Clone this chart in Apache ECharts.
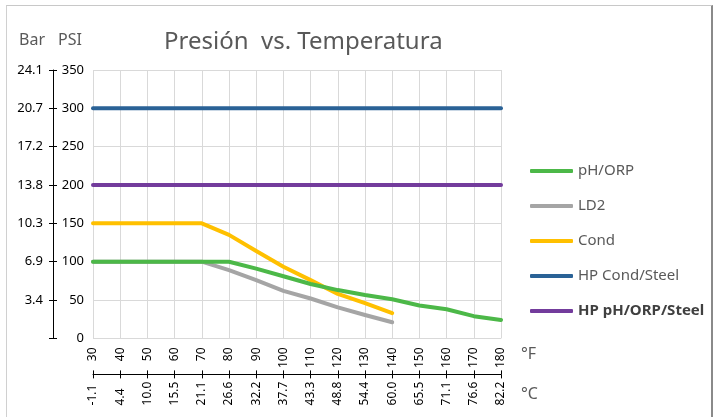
<!DOCTYPE html>
<html>
<head>
<meta charset="utf-8">
<script src="https://cdn.jsdelivr.net/npm/echarts@6/dist/echarts.min.js"></script>
<style>
  html, body { margin: 0; padding: 0; background: #fff; }
  #frame { position: absolute; left: 6px; top: 5px; width: 704px; height: 430px;
           border-left: 1px solid #d0d0d0; border-top: 1px solid #c8c8c8; border-right: 2px solid #8a8a8a; }
  #chart { position: absolute; left: 0; top: 0; width: 718px; height: 417px; }
</style>
</head>
<body>
<div id="frame"></div>
<div id="chart"></div>
<script>
const fahrenheit = ['30','40','50','60','70','80','90','100','110','120','130','140','150','160','170','180'];
const celsius = ['-1.1','4.4','10.0','15.5','21.1','26.6','32.2','37.7','43.3','48.8','54.4','60.0','65.5','71.1','76.6','82.2'];
const barLabels = ['', '3.4', '6.9', '10.3', '13.8', '17.2', '20.7', '24.1'];

const phOrp = [100, 100, 100, 100, 100, 100, 91, 81, 71, 63, 56.5, 51, 43, 38, 29, 24];
const ld2 = [100, 100, 100, 100, 100, 89, 76, 62, 52, 40.5, 30.5, 21, null, null, null, null];
const cond = [150, 150, 150, 150, 150, 135, 114, 93.5, 76, 58, 46, 33, null, null, null, null];
const hpCondSteel = [300, 300, 300, 300, 300, 300, 300, 300, 300, 300, 300, 300, 300, 300, 300, 300];
const hpPhOrpSteel = [200, 200, 200, 200, 200, 200, 200, 200, 200, 200, 200, 200, 200, 200, 200, 200];

const FONT = 'Noto Sans';
const chart = echarts.init(document.getElementById('chart'), null, { renderer: 'canvas' });

function lineSeries(name, data, color) {
  return {
    name, type: 'line', data, symbol: 'none', xAxisIndex: 0, yAxisIndex: 0,
    lineStyle: { width: 4, color, cap: 'round', join: 'round' },
    itemStyle: { color }, connectNulls: false, animation: false
  };
}

chart.setOption({
  animation: false,
  textStyle: { fontFamily: FONT },
  title: [
    { text: 'Presión  vs. Temperatura', left: 164, top: 30, padding: 0,
      textStyle: { fontFamily: FONT, fontSize: 24, fontWeight: 'normal', color: '#595959' } },
    { text: 'Bar', left: 19, top: 32, padding: 0,
      textStyle: { fontFamily: FONT, fontSize: 16, fontWeight: 'normal', color: '#595959' } },
    { text: 'PSI', left: 58, top: 32, padding: 0,
      textStyle: { fontFamily: FONT, fontSize: 16, fontWeight: 'normal', color: '#595959' } },
    { text: '°F', left: 521, top: 346, padding: 0,
      textStyle: { fontFamily: FONT, fontSize: 16, fontWeight: 'normal', color: '#595959' } },
    { text: '°C', left: 521, top: 386, padding: 0,
      textStyle: { fontFamily: FONT, fontSize: 16, fontWeight: 'normal', color: '#595959' } }
  ],
  legend: {
    orient: 'vertical', left: 530, top: 163, padding: 0,
    itemWidth: 43, itemHeight: 4, itemGap: 19, icon: 'roundRect',
    textStyle: { fontFamily: FONT, fontSize: 15, color: '#595959', lineHeight: 16 },
    data: [
      { name: 'pH/ORP' },
      { name: 'LD2' },
      { name: 'Cond' },
      { name: 'HP Cond/Steel' },
      { name: 'HP pH/ORP/Steel', textStyle: { fontWeight: 'bold', color: '#404040' } }
    ]
  },
  grid: { left: 93, right: 217, top: 70, bottom: 78.6, containLabel: false },
  xAxis: [
    {
      type: 'category', data: fahrenheit, boundaryGap: false, position: 'bottom',
      axisLine: { show: false, onZero: false }, axisTick: { show: false },
      axisLabel: { interval: 0, rotate: 90, margin: 9, fontSize: 12, color: '#000', fontFamily: FONT },
      splitLine: { show: true, interval: 0, lineStyle: { color: '#d9d9d9', width: 1 } }
    },
    {
      type: 'category', data: celsius, boundaryGap: false, position: 'bottom', offset: 36,
      axisLine: { show: true, onZero: false, lineStyle: { color: '#000', width: 1 } },
      axisTick: { show: true, interval: 0, length: 4, lineStyle: { color: '#000' } },
      axisLabel: { interval: 0, rotate: 90, align: 'left', margin: 31, fontSize: 12, color: '#000', fontFamily: FONT },
      splitLine: { show: false }
    },
    {
      type: 'category', data: celsius, boundaryGap: false, position: 'bottom', offset: 36,
      axisLine: { show: false, onZero: false },
      axisTick: { show: true, inside: true, interval: 0, length: 4, lineStyle: { color: '#000' } },
      axisLabel: { show: false }, splitLine: { show: false }
    }
  ],
  yAxis: [
    {
      type: 'value', min: 0, max: 350, interval: 50, position: 'left',
      axisLine: { show: false, onZero: false }, axisTick: { show: false },
      axisLabel: { margin: 9, fontSize: 13, color: '#000', fontFamily: FONT },
      splitLine: { show: true, lineStyle: { color: '#d9d9d9', width: 1 } }
    },
    {
      type: 'value', min: 0, max: 350, interval: 50, position: 'left', offset: 40,
      axisLine: { show: true, onZero: false, lineStyle: { color: '#000', width: 1 } },
      axisTick: { show: true, length: 4, lineStyle: { color: '#000' } },
      axisLabel: { margin: 10, fontSize: 13, color: '#000', fontFamily: FONT,
        formatter: (v) => barLabels[Math.round(v / 50)] },
      splitLine: { show: false }
    },
    {
      type: 'value', min: 0, max: 350, interval: 50, position: 'left', offset: 40,
      axisLine: { show: false, onZero: false },
      axisTick: { show: true, inside: true, length: 4, lineStyle: { color: '#000' } },
      axisLabel: { show: false }, splitLine: { show: false }
    }
  ],
  series: [
    lineSeries('HP Cond/Steel', hpCondSteel, '#2a6296'),
    lineSeries('HP pH/ORP/Steel', hpPhOrpSteel, '#733c9c'),
    lineSeries('Cond', cond, '#ffc000'),
    lineSeries('LD2', ld2, '#a5a5a5'),
    lineSeries('pH/ORP', phOrp, '#4cb848')
  ]
});
</script>
</body>
</html>
